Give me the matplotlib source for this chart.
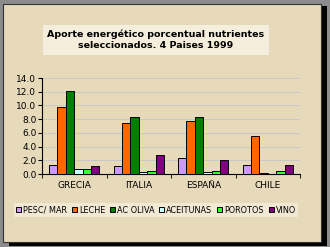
import matplotlib.pyplot as plt
import numpy as np
from matplotlib.patches import Rectangle

paises = ['GRECIA', 'ITALIA', 'ESPAÑA', 'CHILE']
series = ['PESC/ MAR', 'LECHE', 'AC OLIVA', 'ACEITUNAS', 'POROTOS', 'VINO']
pesc = [1.3, 1.1, 2.3, 1.3]
leche = [9.8, 7.5, 7.7, 5.6]
ac_oliva = [12.1, 8.3, 8.3, 0.1]
aceitunas = [0.8, 0.3, 0.3, 0.0]
porotos = [0.7, 0.4, 0.5, 0.4]
vino = [1.1, 2.7, 2.0, 1.3]
yticks = [0, 2, 4, 6, 8, 10, 12, 14]

valores = [pesc, leche, ac_oliva, aceitunas, porotos, vino]
colores = ['#CC99FF', '#FF6600', '#008000', '#CCFFFF', '#33FF33', '#800080']

W, H = 330, 247
fig = plt.figure(figsize=(W / 100, H / 100), dpi=100)
fig.patch.set_facecolor('#8C8C8C')

# panel con sombra
fig.patches.append(Rectangle((9 / W, 1 - 246 / H), 318 / W, 240 / H,
                             transform=fig.transFigure, facecolor='black', zorder=-2))
fig.patches.append(Rectangle((3 / W, 1 - 242 / H), 318 / W, 238 / H,
                             transform=fig.transFigure, facecolor='#E7DABA',
                             edgecolor='#333333', linewidth=0.8, zorder=-1))

ax = fig.add_axes([42 / W, 1 - 174 / H, 258 / W, 96 / H])
ax.set_zorder(2)
ax.set_facecolor('none')

x = np.arange(len(paises))
bw = 0.13
for i, (vals, c, nombre) in enumerate(zip(valores, colores, series)):
    ax.bar(x + (i - 2.5) * bw, vals, bw, color=c, edgecolor='black',
           linewidth=0.7, label=nombre, zorder=3)

ax.set_xlim(-0.5, len(paises) - 0.5)
ax.set_ylim(0, 14)
ax.set_yticks(yticks)
ax.set_yticklabels([f'{v:.1f}' for v in yticks], fontsize=6.5)
ax.set_xticks(x)
ax.set_xticklabels(paises, fontsize=6.5)
ax.set_xticks(np.arange(len(paises) + 1) - 0.5, minor=True)
ax.tick_params(axis='x', which='major', length=0, pad=5)
ax.tick_params(axis='x', which='minor', length=3)
ax.tick_params(axis='y', length=3, pad=1)
ax.grid(axis='y', color='#C8C8C8', linewidth=0.7, zorder=0)
for s in ['top', 'right']:
    ax.spines[s].set_visible(False)

fig.text(156 / W, 1 - 40 / H,
         'Aporte energético porcentual nutrientes\nseleccionados. 4 Paises 1999',
         ha='center', va='center', fontsize=6.8, fontweight='bold', linespacing=1.3,
         bbox=dict(boxstyle='square,pad=0.45', facecolor='#F6EEDC', edgecolor='none'))

leg = fig.legend(loc='center', bbox_to_anchor=(156 / W, 1 - 210 / H), ncol=6,
                 fontsize=5.9, frameon=True, handlelength=0.6, handleheight=0.6,
                 handletextpad=0.25, columnspacing=0.6, borderpad=0.25,
                 fancybox=False)
leg.get_frame().set_facecolor('#F6EEDC')
leg.get_frame().set_edgecolor('none')

fig.savefig('out.png', dpi=100, facecolor=fig.get_facecolor())
